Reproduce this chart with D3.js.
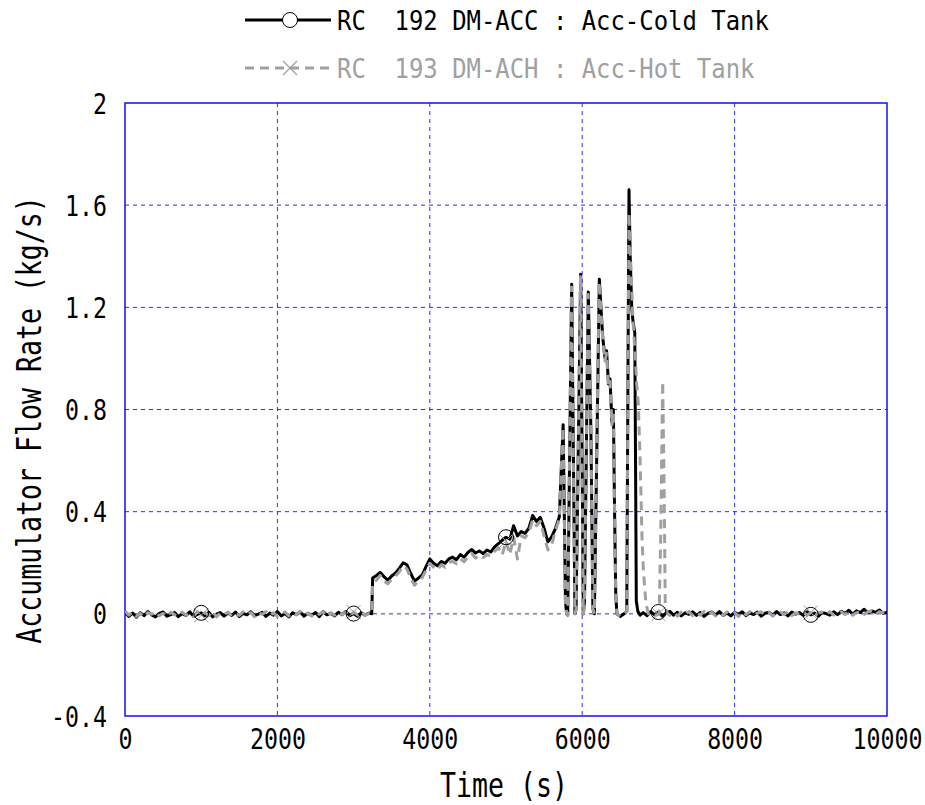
<!DOCTYPE html>
<html>
<head>
<meta charset="utf-8">
<script src="https://cdn.jsdelivr.net/npm/d3@7"></script>
<style>
  html, body { margin: 0; padding: 0; background: #fff; }
  svg text { font-family: "DejaVu Sans Mono", monospace; }
</style>
</head>
<body>
<svg id="chart" width="925" height="805"></svg>
<script>
// Accumulator flow rates, cold and hot tank (kg/s) against time (s)

// quiet period before injection, sampled every 50 s
const flatTime = d3.range(0, 3201, 50);
const coldFlat = [
  0.006,-0.010,0.003,-0.013,0.004,-0.007,0.009,-0.004,-0.012,0.002,
  0.007,-0.009,-0.003,0.005,-0.011,0.001,-0.006,0.008,-0.010,-0.002,
  0.004,-0.008,0.006,-0.012,-0.001,0.005,-0.009,0.003,-0.006,0.007,
  -0.011,0.002,-0.004,0.008,-0.007,-0.001,0.006,-0.010,0.003,-0.005,
  0.009,-0.008,0.001,-0.012,0.004,-0.003,0.007,-0.009,0.002,-0.006,
  0.005,-0.011,0.008,-0.004,0.002,-0.008,0.006,-0.003,0.009,-0.007,
  0.001,-0.010,0.004,-0.005,0.003
];
const hotFlat = [
  0.011,-0.005,0.007,-0.010,0.002,-0.013,0.005,-0.002,0.009,-0.008,
  0.002,-0.011,0.006,-0.003,-0.009,0.007,-0.005,0.003,-0.010,0.008,
  -0.006,0.004,-0.007,0.010,-0.012,0.003,-0.004,0.007,-0.009,0.001,
  -0.006,0.008,-0.003,0.005,-0.011,0.006,-0.002,0.009,-0.007,0.004,
  -0.010,0.002,0.007,-0.008,0.005,-0.004,0.010,-0.006,0.003,-0.009,
  0.006,-0.002,0.008,-0.011,0.004,-0.005,0.009,-0.003,0.006,-0.010,
  0.007,-0.004,0.010,-0.006,0.002
];

// steady discharge, step at 3240 s then every 50 s
const rampTime = [3238].concat(d3.range(3250, 5701, 50));
const coldRamp = [
  0.000,
  0.140,0.150,0.162,0.145,0.132,0.148,0.160,0.178,0.200,0.192,
  0.158,0.128,0.140,0.152,0.185,0.215,0.198,0.188,0.205,0.198,
  0.215,0.222,0.212,0.232,0.222,0.240,0.252,0.238,0.246,0.236,
  0.250,0.242,0.262,0.275,0.288,0.300,0.292,0.345,0.305,0.322,
  0.315,0.335,0.385,0.362,0.378,0.335,0.282,0.302,0.335,0.380
];
const hotRamp = [
  0.000,
  0.120,0.132,0.150,0.128,0.118,0.135,0.148,0.165,0.188,0.176,
  0.140,0.112,0.128,0.142,0.170,0.198,0.182,0.172,0.192,0.182,
  0.200,0.206,0.196,0.215,0.204,0.222,0.236,0.218,0.230,0.220,
  0.232,0.226,0.245,0.258,0.230,0.285,0.232,0.300,0.215,0.305,
  0.298,0.318,0.368,0.345,0.362,0.305,0.250,0.272,0.328,0.370
];

// oscillating surges
const coldSurgeTime = [
  5730,5750,5765,5780,5795,5810,5862,5905,5920,5980,6015,6030,6080,6115,6140,6160,6225,6270,6300,
  6320,6345,6365,6390,6409,6425,6440,6455,6500,6550,6585,6600,6614,6630,6650,6665,6690,6700,6710,
  6730,6760
];
const coldSurge = [
  0.600,0.740,0.400,0.050,0.000,-0.005,1.290,0.000,0.020,1.330,0.000,0.050,1.260,0.700,0.020,0.000,1.310,1.080,1.000,
  1.030,0.900,0.920,0.750,0.800,0.400,0.080,0.000,-0.010,0.000,0.010,0.900,1.660,1.400,1.200,1.150,1.100,0.600,0.050,
  0.010,-0.005
];
const hotSurgeTime = [
  5730,5748,5765,5780,5795,5810,5860,5905,5920,5978,6015,6030,6078,6115,6140,6160,6222,6270,6300,
  6320,6345,6365,6390,6409,6425,6440,6455,6500,6550,6585,6600,6614,6640,6665,6685,6715,6737,6760,
  6785,6803,6837,6870,6920,6970,7010,7030,7056,7075,7090,7120
];
const hotSurge = [
  0.600,0.730,0.400,0.050,0.000,-0.005,1.280,0.000,0.020,1.320,0.000,0.050,1.250,0.710,0.020,0.000,1.300,1.070,0.990,
  1.020,0.890,0.910,0.740,0.790,0.400,0.080,0.000,-0.010,0.000,0.010,0.880,1.570,1.350,1.150,1.060,0.900,0.820,0.600,
  0.300,0.170,0.040,0.000,0.005,-0.005,0.000,0.300,0.910,0.500,0.030,0.000
];

// after the tanks empty, sampled every 50 s
const coldTailTime = d3.range(6800, 10001, 50);
const coldTail = [
  0.005,-0.007,0.009,-0.004,0.007,-0.009,0.003,0.010,-0.005,0.006,
  -0.008,0.004,-0.002,0.008,-0.006,0.005,-0.010,0.002,0.007,-0.004,
  0.009,-0.006,0.003,-0.008,0.006,-0.002,0.008,-0.007,0.004,-0.003,
  0.007,-0.009,0.002,0.006,-0.005,0.009,-0.003,0.004,-0.008,0.007,
  -0.001,0.005,-0.006,0.008,-0.004,0.003,-0.009,0.006,0.001,-0.005,
  0.008,-0.003,0.010,0.002,0.014,-0.002,0.012,0.005,0.018,0.003,
  0.011,0.006,0.015,0.002,0.005
];
const hotTailTime = d3.range(7150, 10001, 50);
const hotTail = [
  -0.006,0.005,-0.009,0.007,-0.003,0.009,-0.007,0.004,-0.005,0.010,
  -0.004,0.006,-0.008,0.003,-0.006,0.008,-0.002,0.005,-0.010,0.007,
  -0.004,0.009,-0.006,0.003,0.008,-0.005,0.006,-0.009,0.002,0.007,
  -0.003,0.010,-0.007,0.004,-0.002,0.008,-0.006,0.005,-0.009,0.003,
  0.007,-0.004,0.009,-0.005,0.002,0.008,-0.003,0.011,-0.006,0.004,
  0.009,-0.002,0.007,0.012,-0.003,0.008,0.004,0.001
];

const markerTimes = [1000, 3000, 5000, 7000, 9000];
const xTicks = [0, 2000, 4000, 6000, 8000, 10000];
const yTicks = [-0.4, 0, 0.4, 0.8, 1.2, 1.6, 2];
const yTickLabels = ["-0.4", "0", "0.4", "0.8", "1.2", "1.6", "2"];
const seriesLabels = ["RC  192 DM-ACC : Acc-Cold Tank", "RC  193 DM-ACH : Acc-Hot Tank"];

const svg = d3.select("#chart");
const plot = { left: 125, right: 887, top: 103, bottom: 716 };
const gridBlue = "#2a2aff";
const grey = "#a0a0a0";

const x = d3.scaleLinear().domain([0, 10000]).range([plot.left, plot.right]);
const y = d3.scaleLinear().domain([-0.4, 2]).range([plot.bottom, plot.top]);

// narrow the monospace glyphs around their own anchor point
function condense(sel, sx) {
  sel.each(function () {
    const t = d3.select(this);
    const x0 = +t.attr("x") || 0, y0 = +t.attr("y") || 0;
    t.attr("x", 0).attr("y", 0).attr("transform", `translate(${x0},${y0}) scale(${sx},1)`);
  });
}

// dashed grid
const g = svg.append("g");
g.selectAll(".vgrid").data(xTicks.slice(1, -1)).enter().append("line")
  .attr("x1", d => x(d)).attr("x2", d => x(d))
  .attr("y1", plot.top).attr("y2", plot.bottom)
  .attr("stroke", gridBlue).attr("stroke-width", 1).attr("stroke-dasharray", "4,4");
g.selectAll(".hgrid").data(yTicks.slice(1, -1)).enter().append("line")
  .attr("x1", plot.left).attr("x2", plot.right)
  .attr("y1", d => y(d)).attr("y2", d => y(d))
  .attr("stroke", gridBlue).attr("stroke-width", 1).attr("stroke-dasharray", "4,4");

// frame
svg.append("rect")
  .attr("x", plot.left).attr("y", plot.top)
  .attr("width", plot.right - plot.left).attr("height", plot.bottom - plot.top)
  .attr("fill", "none").attr("stroke", "#1010ee").attr("stroke-width", 1.5);

// tick labels via axes (no tick lines)
const xAxis = d3.axisBottom(x).tickValues(xTicks).tickSize(0).tickPadding(0).tickFormat(d3.format("d"));
const xa = svg.append("g").attr("transform", `translate(0,${plot.bottom})`).call(xAxis);
xa.select(".domain").remove();
xa.selectAll("text").attr("font-size", 28).attr("fill", "#000")
  .attr("font-family", "DejaVu Sans Mono").attr("dy", 0).attr("y", 33);
condense(xa.selectAll("text"), 0.83);

const yAxis = d3.axisLeft(y).tickValues(yTicks).tickSize(0).tickPadding(0)
  .tickFormat((d, i) => yTickLabels[i]);
const ya = svg.append("g").attr("transform", `translate(${plot.left},0)`).call(yAxis);
ya.select(".domain").remove();
ya.selectAll("text").attr("font-size", 28).attr("fill", "#000")
  .attr("font-family", "DejaVu Sans Mono").attr("x", -18).attr("dy", "0.36em");
condense(ya.selectAll("text"), 0.83);

// axis titles
svg.append("text").attr("transform", "translate(504,797) scale(0.805,1)").attr("text-anchor", "middle")
  .attr("font-size", 33).text("Time (s)");
svg.append("text").attr("transform", "translate(41,420) rotate(-90) scale(0.805,1)").attr("text-anchor", "middle")
  .attr("font-size", 33).text("Accumulator Flow Rate (kg/s)");

// series
svg.append("clipPath").attr("id", "plotClip").append("rect")
  .attr("x", plot.left).attr("y", plot.top)
  .attr("width", plot.right - plot.left).attr("height", plot.bottom - plot.top);

const line = d3.line().x(d => x(d[0])).y(d => y(d[1]));
const zip = (ts, vs) => ts.map((t, i) => [t, vs[i]]);
const cold = [].concat(zip(flatTime, coldFlat), zip(rampTime, coldRamp),
  zip(coldSurgeTime, coldSurge), zip(coldTailTime, coldTail));
const hot = [].concat(zip(flatTime, hotFlat), zip(rampTime, hotRamp),
  zip(hotSurgeTime, hotSurge), zip(hotTailTime, hotTail));

const series = svg.append("g").attr("clip-path", "url(#plotClip)");
series.append("path").datum(cold).attr("d", line)
  .attr("fill", "none").attr("stroke", "#000").attr("stroke-width", 3)
  .attr("stroke-linejoin", "round");
series.append("path").datum(hot).attr("d", line)
  .attr("fill", "none").attr("stroke", grey).attr("stroke-width", 3)
  .attr("stroke-dasharray", "9,6").attr("stroke-linejoin", "round");

// markers placed on each curve
function valueAt(data, t) {
  const i = d3.bisector(d => d[0]).left(data, t);
  if (i <= 0) return data[0][1];
  if (i >= data.length) return data[data.length - 1][1];
  const a = data[i - 1], b = data[i];
  return a[1] + (b[1] - a[1]) * (t - a[0]) / (b[0] - a[0]);
}
const mk = svg.append("g");
mk.selectAll(".hx").data(markerTimes).enter().append("path")
  .attr("d", "M-7,-7L7,7M-7,7L7,-7")
  .attr("transform", d => `translate(${x(d)},${y(valueAt(hot, d))})`)
  .attr("stroke", grey).attr("stroke-width", 1).attr("fill", "none");
mk.selectAll(".co").data(markerTimes).enter().append("circle")
  .attr("cx", d => x(d)).attr("cy", d => y(valueAt(cold, d))).attr("r", 7.5)
  .attr("fill", "none").attr("stroke", "#000").attr("stroke-width", 1);

// legend
const lg = svg.append("g");
lg.append("line").attr("x1", 245).attr("x2", 331).attr("y1", 20).attr("y2", 20)
  .attr("stroke", "#000").attr("stroke-width", 3);
lg.append("circle").attr("cx", 290).attr("cy", 20).attr("r", 7.5)
  .attr("fill", "#fff").attr("stroke", "#000").attr("stroke-width", 1);
lg.append("text").attr("transform", "translate(337,30) scale(0.92,1)").attr("font-size", 26).attr("fill", "#000")
  .attr("xml:space", "preserve").text(seriesLabels[0]);

lg.append("line").attr("x1", 245).attr("x2", 331).attr("y1", 68).attr("y2", 68)
  .attr("stroke", grey).attr("stroke-width", 3).attr("stroke-dasharray", "9,6");
lg.append("path").attr("d", "M-7,-7L7,7M-7,7L7,-7").attr("transform", "translate(290,68)")
  .attr("stroke", grey).attr("stroke-width", 1.2).attr("fill", "none");
lg.append("text").attr("transform", "translate(337,78) scale(0.92,1)").attr("font-size", 26).attr("fill", grey)
  .attr("xml:space", "preserve").text(seriesLabels[1]);
</script>
</body>
</html>
